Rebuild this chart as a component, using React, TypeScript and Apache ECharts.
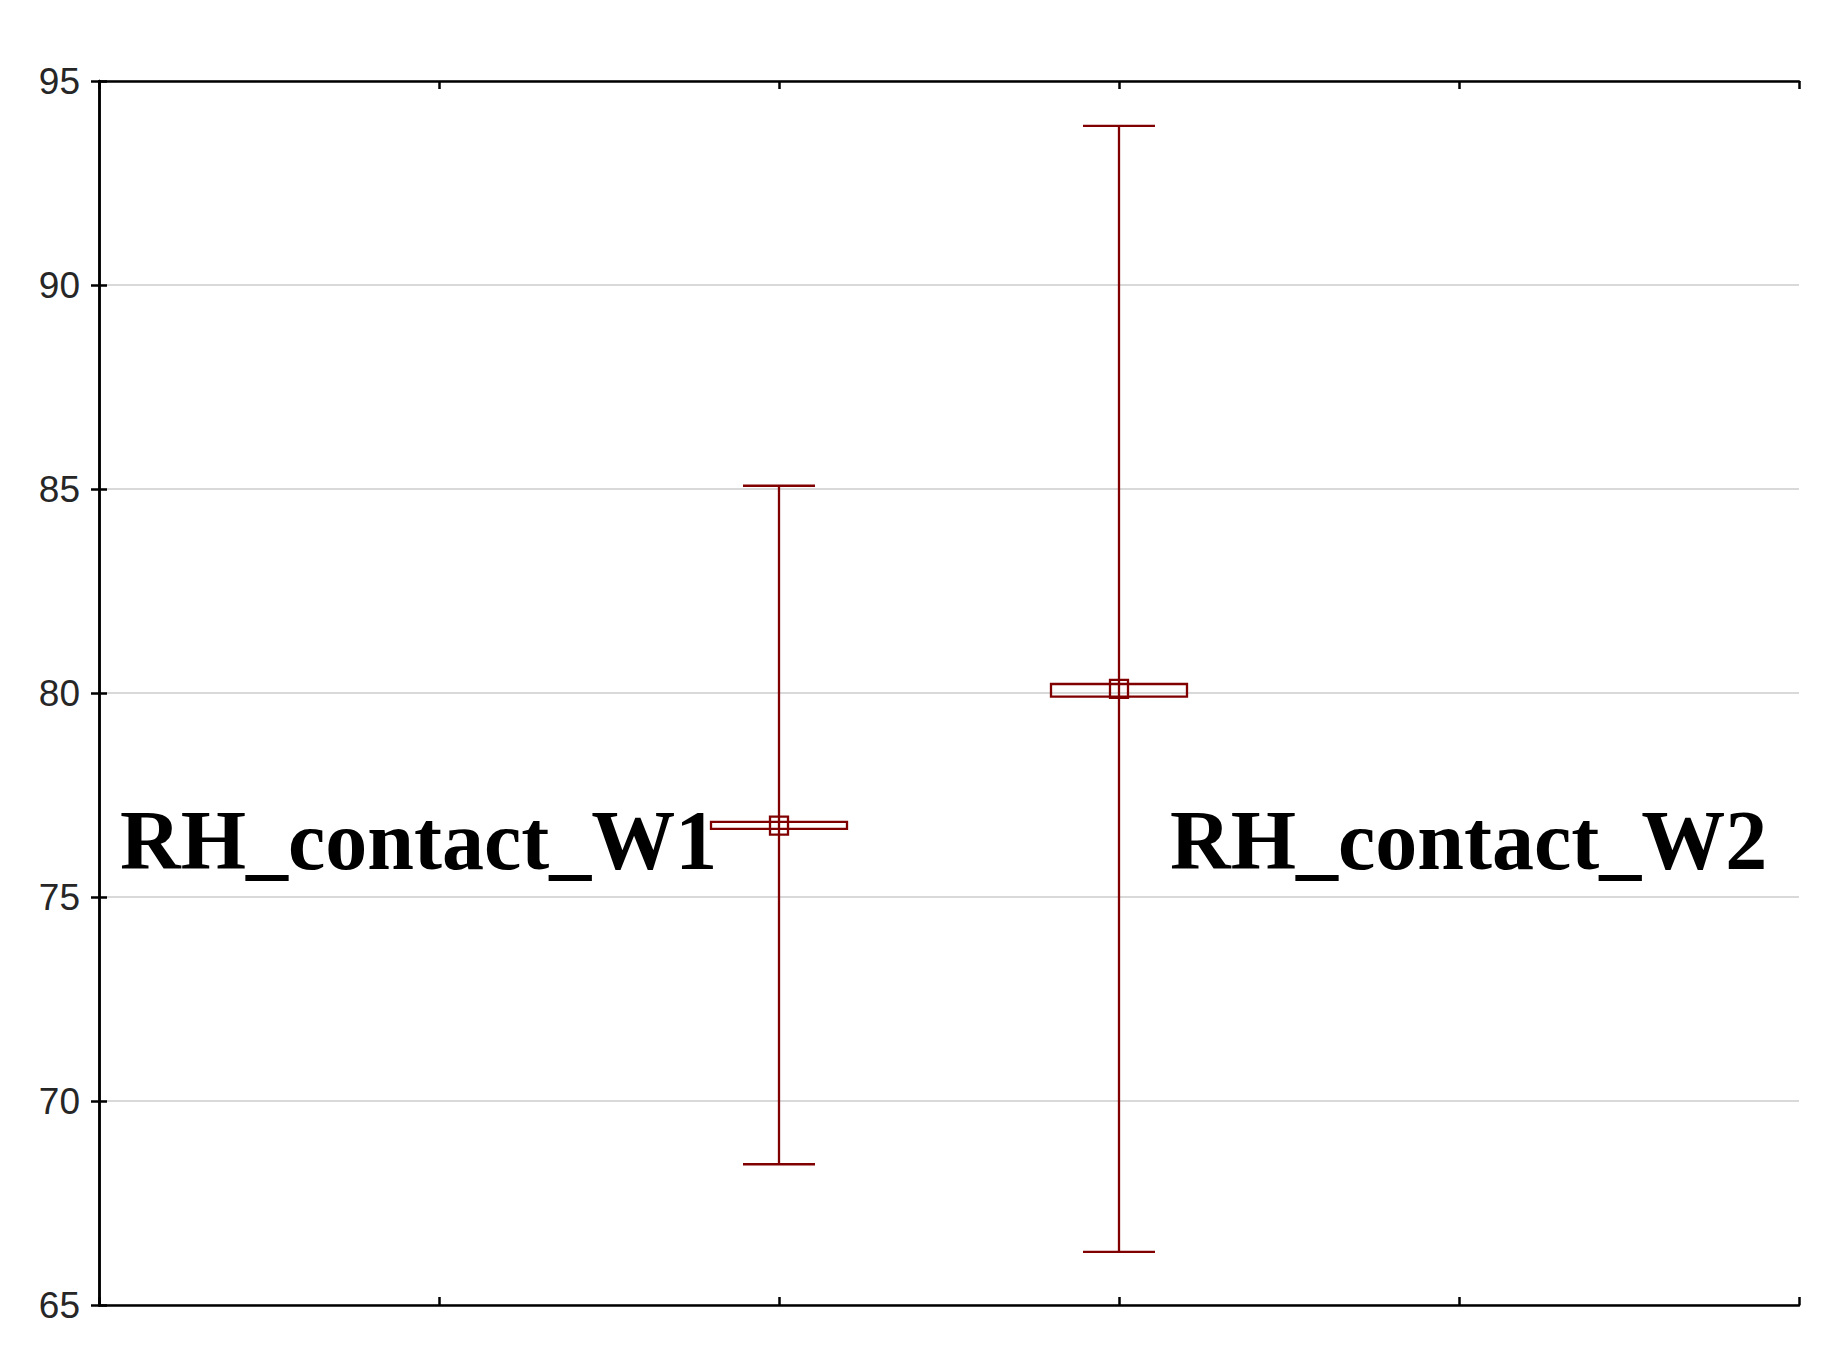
import React, { useEffect, useRef } from "react";
import * as echarts from "echarts";

const categories = ["RH_contact_W1", "RH_contact_W2"];
const xPositions = [2, 3];
const means = [76.75, 80.1];
const boxLow = [76.67, 79.91];
const boxHigh = [76.84, 80.22];
const whiskerLow = [68.45, 66.3];
const whiskerHigh = [85.08, 93.9];
const yTicks = [65, 70, 75, 80, 85, 90, 95];

const RED = "#800000";

export default function App() {
  const ref = useRef<HTMLDivElement>(null);
  useEffect(() => {
    document.body.style.margin = "0";
    const chart = echarts.init(ref.current!, null, { renderer: "svg" });
    const data = categories.map((c, i) => [
      xPositions[i],
      means[i],
      whiskerLow[i],
      whiskerHigh[i],
      boxLow[i],
      boxHigh[i],
    ]);
    const axisLine = { show: true, lineStyle: { color: "#000", width: 2.5 } };
    const axisTick = { show: true, inside: true, length: 8, lineStyle: { color: "#000", width: 2.5 } };
    chart.setOption({
      animation: false,
      grid: { left: 99, right: 30, top: 81, bottom: 48, containLabel: false },
      xAxis: [
        {
          type: "value", min: 0, max: 5, interval: 1, position: "bottom",
          axisLine, axisTick, axisLabel: { show: false }, splitLine: { show: false },
        },
        {
          type: "value", min: 0, max: 5, interval: 1, position: "top",
          axisLine, axisTick, axisLabel: { show: false }, splitLine: { show: false },
        },
      ],
      yAxis: [
        {
          type: "value", min: yTicks[0], max: yTicks[yTicks.length - 1], interval: 5, position: "left",
          axisLine, axisTick,
          axisLabel: {
            show: true, margin: 19, fontSize: 37, color: "#262626",
            fontFamily: "Liberation Sans, Arial, sans-serif",
            padding: [0, 0, 6, 0],
          },
          splitLine: { show: true, lineStyle: { color: "#d9d9d9", width: 2 } },
        },
        {
          type: "value", min: yTicks[0], max: yTicks[yTicks.length - 1], interval: 5, position: "right",
          axisLine, axisTick, axisLabel: { show: false }, splitLine: { show: false },
        },
      ],
      series: [
        {
          type: "custom",
          xAxisIndex: 0,
          yAxisIndex: 0,
          data,
          renderItem: (params: any, api: any) => {
            const x = api.value(0);
            const m = api.coord([x, api.value(1)]);
            const lo = api.coord([x, api.value(2)]);
            const hi = api.coord([x, api.value(3)]);
            const bLo = api.coord([x, api.value(4)]);
            const bHi = api.coord([x, api.value(5)]);
            const cx = m[0];
            const ls = { stroke: RED, lineWidth: 2.3, fill: "none" };
            return {
              type: "group",
              children: [
                { type: "line", shape: { x1: cx, y1: hi[1], x2: cx, y2: lo[1] }, style: ls },
                { type: "line", shape: { x1: cx - 36, y1: hi[1], x2: cx + 36, y2: hi[1] }, style: ls },
                { type: "line", shape: { x1: cx - 36, y1: lo[1], x2: cx + 36, y2: lo[1] }, style: ls },
                {
                  type: "rect",
                  shape: { x: cx - 68, y: bHi[1], width: 136, height: bLo[1] - bHi[1] },
                  style: ls,
                },
                {
                  type: "rect",
                  shape: { x: cx - 9, y: m[1] - 9, width: 18, height: 18 },
                  style: ls,
                },
              ],
            };
          },
        },
      ],
      graphic: [
        {
          type: "text", left: 120, top: 869 - 71,
          style: {
            text: categories[0], fill: "#000",
            font: "bold 84px 'Liberation Serif', 'Times New Roman', serif",
          },
        },
        {
          type: "text", left: 1170, top: 869 - 71,
          style: {
            text: categories[1], fill: "#000",
            font: "bold 84px 'Liberation Serif', 'Times New Roman', serif",
          },
        },
      ],
    });
    return () => chart.dispose();
  }, []);
  return <div ref={ref} style={{ width: 1829, height: 1353 }} />;
}
